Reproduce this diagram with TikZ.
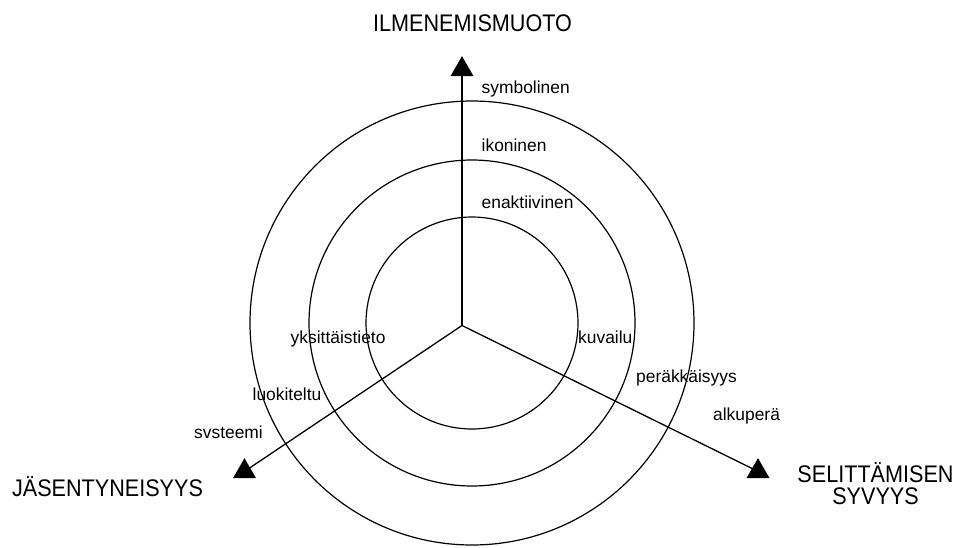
\documentclass[tikz,border=0pt]{standalone}
\usepackage{fontspec}
\setmainfont{Liberation Sans}
\newfontfamily\axisfont[FakeStretch=0.9]{Liberation Sans}
\usetikzlibrary{shapes.geometric}
\begin{document}
\begin{tikzpicture}[x=1pt,y=-1pt,
  axisline/.style={line width=1.3pt},
  ring/.style={line width=1.2pt},
  headtri/.style={regular polygon, regular polygon sides=3, fill=black,
    draw=none, minimum size=26.5pt, inner sep=0pt, outer sep=0pt},
  level/.style={font=\fontsize{17.4}{20}\selectfont, inner sep=0pt, anchor=base west},
  dimension/.style={font=\axisfont\fontsize{24}{26}\selectfont, inner sep=0pt, anchor=base}]
\useasboundingbox (0,0) rectangle (956,547);

% centre of the rings and meeting point of the three axes
\coordinate (C) at (472,323);
\coordinate (O) at (462,325.5);

% three concentric rings
\draw[ring] (C) circle[radius=106];
\draw[ring] (C) circle[radius=163];
\draw[ring] (C) circle[radius=222];

% axis heads
\node[headtri] (hT) at (462,69.4) {};
\node[headtri] (hL) at (244.5,471.4) {};
\node[headtri] (hR) at (758,471.4) {};

% axes
\draw[axisline] (O) -- (hT.center);
\draw[axisline] (O) -- (hL.center);
\draw[axisline] (O) -- (hR.center);

% axis names
\node[dimension] (dT) at (472.5,31) {ILMENEMISMUOTO};
\node[dimension] (dL) at (107.5,496) {JÄSENTYNEISYYS};
\node[dimension] (dR1) at (875.5,482) {SELITTÄMISEN};
\node[dimension] (dR2) at (875.5,504) {SYVYYS};

% levels on each axis
\node[level] (t3) at (481.5,93.5) {symbolinen};
\node[level] (t2) at (481.5,151.7) {ikoninen};
\node[level] (t1) at (481.5,208.3) {enaktiivinen};
\node[level] (l1) at (290.5,343) {yksittäistieto};
\node[level] (l2) at (252.5,400) {luokiteltu};
\node[level] (l3) at (194,438.5) {svsteemi};
\node[level] (r1) at (578,343) {kuvailu};
\node[level] (r2) at (636,382.5) {peräkkäisyys};
\node[level] (r3) at (713,420) {alkuperä};
\end{tikzpicture}
\end{document}
